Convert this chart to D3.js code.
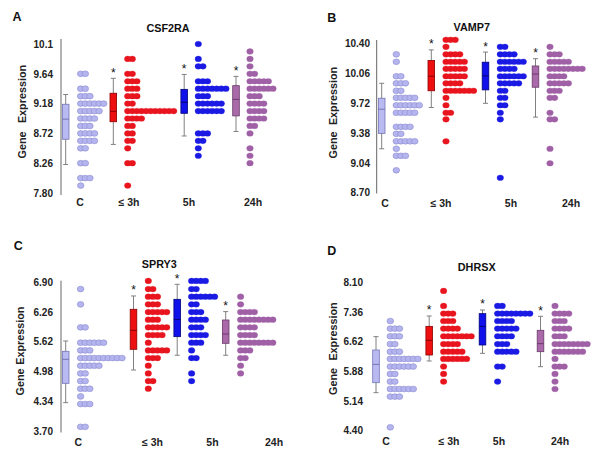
<!DOCTYPE html>
<html><head><meta charset="utf-8">
<script src="https://cdn.jsdelivr.net/npm/d3@7"></script>
<style>
body{margin:0;background:#fff}
svg{display:block;font-family:"Liberation Sans",Arial,sans-serif;font-weight:bold}
</style>
</head><body>
<svg id="chart" width="600" height="459"></svg>
<script>
// ---------- DATA ----------
const groups = ["C", "≤ 3h", "5h", "24h"];
const genes = ["CSF2RA", "VAMP7", "SPRY3", "DHRSX"];
const panelLetters = ["A", "B", "C", "D"];

const ticksA = ["7.80", "8.26", "8.72", "9.18", "9.64", "10.1"];
const ticksB = ["8.70", "9.04", "9.38", "9.72", "10.06", "10.40"];
const ticksC = ["3.70", "4.34", "4.98", "5.62", "6.26", "6.90"];
const ticksD = ["4.40", "5.14", "5.88", "6.62", "7.36", "8.10"];

// dot rows: [expression value, number of samples]
const dotsA_C   = [[9.64,2],[9.41,2],[9.295,3],[9.18,6],[9.065,5],[8.95,4],[8.835,3],[8.72,4],[8.605,4],[8.49,2],[8.26,2],[8.03,3],[7.915,1]];
const dotsA_3h  = [[9.87,2],[9.64,2],[9.525,3],[9.41,3],[9.295,3],[9.18,2],[9.065,11],[8.95,4],[8.835,2],[8.72,2],[8.605,2],[8.49,1],[8.26,2],[7.915,1]];
const dotsA_5h  = [[10.10,1],[9.87,1],[9.755,2],[9.525,3],[9.41,7],[9.295,3],[9.18,6],[9.065,6],[8.72,3],[8.605,2],[8.49,1],[8.375,1]];
const dotsA_24h = [[9.985,1],[9.87,1],[9.755,1],[9.64,2],[9.525,5],[9.41,6],[9.295,3],[9.18,4],[9.065,4],[8.95,4],[8.835,2],[8.72,1],[8.49,1],[8.375,1],[8.26,1]];

const dotsB_C   = [[10.275,1],[10.19,1],[10.025,2],[9.945,3],[9.86,2],[9.78,5],[9.695,6],[9.61,5],[9.45,4],[9.37,2],[9.285,5],[9.20,1],[9.12,3],[8.955,1]];
const dotsB_3h  = [[10.44,3],[10.36,1],[10.275,4],[10.19,5],[10.11,5],[10.025,5],[9.945,4],[9.86,7],[9.78,1],[9.695,1],[9.61,2],[9.535,1],[9.285,1]];
const dotsB_5h  = [[10.36,2],[10.275,4],[10.19,6],[10.11,4],[10.025,6],[9.945,5],[9.86,2],[9.78,2],[9.695,2],[9.61,1],[9.535,1],[8.87,1]];
const dotsB_24h = [[10.36,1],[10.275,3],[10.19,5],[10.11,8],[10.025,4],[9.945,5],[9.86,3],[9.78,2],[9.61,1],[9.535,2],[9.20,1],[9.035,1]];

const dotsC_C   = [[6.755,1],[6.425,1],[5.93,2],[5.60,6],[5.435,3],[5.27,10],[5.105,5],[4.94,2],[4.775,2],[4.61,3],[4.445,1],[4.28,3],[3.79,2]];
const dotsC_3h  = [[6.93,1],[6.755,2],[6.59,3],[6.425,3],[6.26,5],[6.095,3],[5.93,5],[5.765,4],[5.60,1],[5.435,5],[5.27,3],[5.105,1],[4.94,1],[4.775,2],[4.61,1]];
const dotsC_5h  = [[6.93,4],[6.755,2],[6.59,6],[6.425,2],[6.26,3],[6.095,4],[5.93,3],[5.765,4],[5.60,3],[5.435,1],[5.27,2],[4.94,1],[4.775,1]];
const dotsC_24h = [[6.59,1],[6.425,1],[6.26,4],[6.095,8],[5.93,4],[5.765,4],[5.60,8],[5.435,3],[5.27,2],[5.105,1],[4.94,1]];

const dotsD_C   = [[7.135,1],[6.945,3],[6.755,3],[6.56,2],[6.37,3],[6.19,7],[6.00,6],[5.815,2],[5.625,2],[5.44,6],[5.25,3],[4.485,1]];
const dotsD_3h  = [[7.885,1],[7.51,1],[7.32,3],[7.135,3],[6.945,4],[6.755,7],[6.56,4],[6.37,5],[6.19,6],[6.00,1],[5.815,1],[5.625,1]];
const dotsD_5h  = [[7.51,2],[7.32,8],[7.135,4],[6.945,5],[6.755,4],[6.56,3],[6.37,5],[6.00,2],[5.625,1]];
const dotsD_24h = [[7.51,1],[7.32,4],[7.135,3],[6.945,4],[6.755,3],[6.56,8],[6.37,7],[6.19,1],[6.00,3],[5.815,1],[5.625,1],[5.44,1]];

// box stats per group: [lower whisker, Q1, median, Q3, upper whisker]
const boxA = [[8.24,8.63,8.94,9.17,9.32],[8.55,8.90,9.06,9.34,9.57],[8.68,9.03,9.20,9.40,9.63],[8.75,8.99,9.245,9.457,9.60]];
const boxB = [[9.20,9.375,9.65,9.775,9.945],[9.67,9.86,10.025,10.205,10.325],[9.717,9.87,10.03,10.185,10.30],[9.56,9.90,10.05,10.142,10.225]];
const boxC = [[4.31,4.726,5.243,5.415,5.637],[5.013,5.458,5.867,6.319,6.606],[5.33,5.73,6.10,6.534,6.857],[5.33,5.587,5.788,6.089,6.269]];
const boxD = [[5.348,5.597,6.054,6.412,6.745],[6.138,6.287,6.653,7.002,7.26],[6.329,6.537,7.00,7.318,7.41],[5.996,6.37,6.57,6.903,7.252]];

// significance star vs control
const sigA = [0,1,1,1], sigB = [0,1,1,1], sigC = [0,1,1,1], sigD = [0,1,1,1];

// ---------- LAYOUT / STYLE ----------
const panelData = [
  {ticks: ticksA, dots: [dotsA_C, dotsA_3h, dotsA_5h, dotsA_24h], box: boxA, sig: sigA},
  {ticks: ticksB, dots: [dotsB_C, dotsB_3h, dotsB_5h, dotsB_24h], box: boxB, sig: sigB},
  {ticks: ticksC, dots: [dotsC_C, dotsC_3h, dotsC_5h, dotsC_24h], box: boxC, sig: sigC},
  {ticks: ticksD, dots: [dotsD_C, dotsD_3h, dotsD_5h, dotsD_24h], box: boxD, sig: sigD}
];
const layouts = [
  {axisX:61, showAxis:true, yRange:[193,44], axisExt:[39,195], labelRight:53,
   boxX:[65.7,113.3,184.2,236], dotX:[80.7,127.7,198.3,250], catX:[80,129,189,253], catY:206,
   title:[168,32], letter:[17,21], ylabX:21.7, geneY:145, exprY:94},
  {axisX:376.7, showAxis:true, yRange:[192.7,43.3], axisExt:[40,193.5], labelRight:370,
   boxX:[381.7,431.3,485.5,535.5], dotX:[396.3,446,500.3,550], catX:[385,441,511,571], catY:207,
   title:[471.7,30.5], letter:[331.7,22], ylabX:332.7, geneY:145, exprY:96},
  {axisX:61, showAxis:true, yRange:[431,282.3], axisExt:[280.7,432.5], labelRight:53,
   boxX:[65.7,133.5,177.2,225.7], dotX:[80.6,148.3,191.6,240.6], catX:[78.3,152.5,212.5,274], catY:446,
   title:[159.3,268], letter:[18.3,250], ylabX:20, geneY:382, exprY:335.7},
  {axisX:null, showAxis:false, yRange:[430.7,282.3], axisExt:null, labelRight:363,
   boxX:[376,429.2,482.5,540.5], dotX:[390.3,443.6,497.6,555], catX:[386,449,499,560], catY:444.5,
   title:[476.7,271], letter:[331.7,255], ylabX:333.3, geneY:381.5, exprY:331.5}
];
const dotFill   = ["#b4b4ee", "#e8141e", "#1a1ae4", "#a060a6"];
const dotStroke = ["#8c8cd2", "#e8141e", "#1a1ae4", "#a060a6"];
const boxFill   = ["#babaf2", "#ee1010", "#1010ea", "#aa6aaa"];
const boxStroke = ["#7474b6", "#8a0000", "#00007a", "#6a3a6a"];
const dotStep = 4.6, dotRx = 3.3, dotRy = 2.85, boxW = 6.6, capW = 5;

const svg = d3.select("#chart");

panelData.forEach((pd, p) => {
  const L = layouts[p];
  const g = svg.append("g");
  const tv = pd.ticks.map(Number);
  const y = d3.scaleLinear().domain([tv[0], tv[tv.length - 1]]).range(L.yRange);
  const xBox = d3.scaleOrdinal().domain(groups).range(L.boxX);
  const xDot = d3.scaleOrdinal().domain(groups).range(L.dotX);
  const xCat = d3.scaleOrdinal().domain(groups).range(L.catX);
  const xOff = d3.scaleLinear().domain([0, 1]).range([0, dotStep]);

  // y axis labels
  const pad = 4;
  const ax = d3.axisLeft(y).tickValues(tv).tickFormat((d, i) => pd.ticks[i]).tickSize(0).tickPadding(pad);
  const axG = g.append("g").attr("transform", `translate(${L.labelRight + pad},0)`).call(ax);
  axG.select(".domain").remove();
  axG.selectAll("text").attr("font-size", 10).attr("font-weight", "bold")
     .attr("fill", "#222").attr("font-family", '"Liberation Sans",Arial,sans-serif');

  if (L.showAxis) {
    g.append("line").attr("x1", L.axisX).attr("x2", L.axisX)
      .attr("y1", L.axisExt[0]).attr("y2", L.axisExt[1])
      .attr("stroke", "#666").attr("stroke-width", 1);
  }

  // y title
  [["Gene", L.geneY], ["Expression", L.exprY]].forEach(([t, cy]) => {
    g.append("text").attr("transform", `translate(${L.ylabX},${cy}) rotate(-90)`)
      .attr("text-anchor", "middle").attr("dominant-baseline", "central")
      .attr("font-size", 10.8).attr("fill", "#222").text(t);
  });

  // panel letter and gene title
  g.append("text").attr("x", L.letter[0]).attr("y", L.letter[1]).attr("text-anchor", "middle")
    .attr("font-size", 12.5).attr("fill", "#111").text(panelLetters[p]);
  g.append("text").attr("x", L.title[0]).attr("y", L.title[1]).attr("text-anchor", "middle")
    .attr("font-size", 10.8).attr("fill", "#111").text(genes[p]);

  // category labels
  g.selectAll("text.cat").data(groups).join("text").attr("class", "cat")
    .attr("x", d => xCat(d)).attr("y", L.catY).attr("text-anchor", "middle")
    .attr("font-size", 10.5).attr("fill", "#222").text(d => d);

  groups.forEach((grp, gi) => {
    // dots
    const pts = [];
    pd.dots[gi].forEach(([v, n]) => { for (let k = 0; k < n; k++) pts.push({v, k}); });
    g.append("g").selectAll("ellipse").data(pts).join("ellipse")
      .attr("cx", d => xDot(grp) + xOff(d.k)).attr("cy", d => y(d.v))
      .attr("rx", dotRx).attr("ry", dotRy)
      .attr("fill", dotFill[gi]).attr("stroke", dotStroke[gi]).attr("stroke-width", gi === 0 ? 0.6 : 0.3);

    // box plot
    const [lo, q1, med, q3, hi] = pd.box[gi];
    const cx = xBox(grp);
    const bg = g.append("g");
    bg.append("line").attr("x1", cx).attr("x2", cx).attr("y1", y(hi)).attr("y2", y(lo))
      .attr("stroke", "#808080").attr("stroke-width", 1);
    [hi, lo].forEach(v => bg.append("line").attr("x1", cx - capW / 2).attr("x2", cx + capW / 2)
      .attr("y1", y(v)).attr("y2", y(v)).attr("stroke", "#808080").attr("stroke-width", 1));
    bg.append("rect").attr("x", cx - boxW / 2).attr("y", y(q3)).attr("width", boxW)
      .attr("height", y(q1) - y(q3)).attr("fill", boxFill[gi])
      .attr("stroke", boxStroke[gi]).attr("stroke-width", 0.8);
    bg.append("line").attr("x1", cx - boxW / 2).attr("x2", cx + boxW / 2)
      .attr("y1", y(med)).attr("y2", y(med)).attr("stroke", boxStroke[gi]).attr("stroke-width", 1);

    if (pd.sig[gi]) {
      g.append("text").attr("x", cx).attr("y", y(hi) - 1.5).attr("text-anchor", "middle")
        .attr("font-size", 12).attr("font-weight", "normal").attr("fill", "#111").text("*");
    }
  });
});
</script>
</body></html>
